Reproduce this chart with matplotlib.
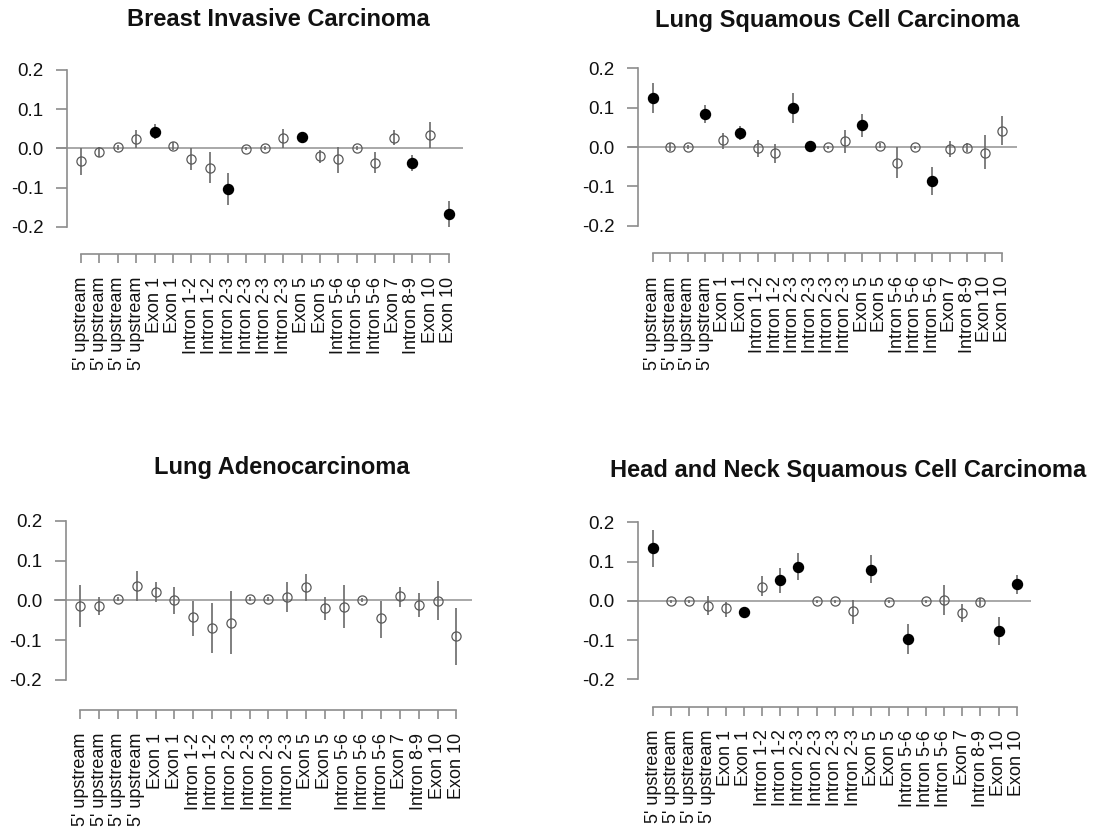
import matplotlib
matplotlib.use("Agg")
import matplotlib.pyplot as plt

plt.rcParams['font.family'] = ['Liberation Sans', 'DejaVu Sans']

labels = ["5' upstream"] * 4 + ["Exon 1"] * 2 + ["Intron 1-2"] * 2 + ["Intron 2-3"] * 4 + \
         ["Exon 5"] * 2 + ["Intron 5-6"] * 3 + ["Exon 7", "Intron 8-9"] + ["Exon 10"] * 2

titles = ["Breast Invasive Carcinoma", "Lung Squamous Cell Carcinoma",
          "Lung Adenocarcinoma", "Head and Neck Squamous Cell Carcinoma"]

brca_est = [-0.032, -0.009, 0.003, 0.024, 0.043, 0.006, -0.027, -0.049, -0.105, -0.001, 0.002,
            0.026, 0.029, -0.020, -0.027, 0.002, -0.037, 0.026, -0.037, 0.034, -0.168]
brca_lo = [-0.068, -0.021, -0.004, 0.000, 0.023, -0.004, -0.056, -0.088, -0.144, -0.005, -0.003,
           0.000, 0.016, -0.038, -0.062, -0.003, -0.064, 0.009, -0.057, 0.000, -0.201]
brca_hi = [0.002, 0.003, 0.008, 0.047, 0.062, 0.016, 0.000, -0.010, -0.064, 0.003, 0.006,
           0.050, 0.042, -0.004, 0.004, 0.006, -0.010, 0.047, -0.017, 0.068, -0.134]
brca_sig = [0, 0, 0, 0, 1, 0, 0, 0, 1, 0, 0, 0, 1, 0, 0, 0, 0, 0, 1, 0, 1]

lusc_est = [0.125, 0.000, 0.000, 0.084, 0.017, 0.036, -0.003, -0.014, 0.100, 0.003, -0.001,
            0.014, 0.055, 0.003, -0.040, -0.001, -0.087, -0.005, -0.002, -0.014, 0.041]
lusc_lo = [0.086, -0.011, -0.004, 0.061, -0.004, 0.019, -0.025, -0.040, 0.061, -0.002, -0.004,
           -0.014, 0.025, -0.003, -0.080, -0.004, -0.123, -0.025, -0.012, -0.057, 0.004]
lusc_hi = [0.163, 0.011, 0.004, 0.108, 0.036, 0.053, 0.017, 0.008, 0.137, 0.008, 0.003,
           0.042, 0.083, 0.009, 0.000, 0.003, -0.051, 0.014, 0.009, 0.031, 0.078]
lusc_sig = [1, 0, 0, 1, 0, 1, 0, 0, 1, 1, 0, 0, 1, 0, 0, 0, 1, 0, 0, 0, 0]

luad_est = [-0.013, -0.014, 0.004, 0.036, 0.021, 0.000, -0.043, -0.069, -0.056, 0.003, 0.003,
            0.009, 0.033, -0.020, -0.016, 0.002, -0.044, 0.010, -0.012, -0.001, -0.089]
luad_lo = [-0.066, -0.037, -0.001, -0.001, -0.005, -0.034, -0.089, -0.133, -0.134, -0.002, -0.002,
           -0.028, -0.001, -0.049, -0.070, -0.003, -0.095, -0.016, -0.041, -0.049, -0.162]
luad_hi = [0.038, 0.008, 0.009, 0.073, 0.047, 0.034, -0.001, -0.006, 0.024, 0.008, 0.008,
           0.045, 0.065, 0.008, 0.038, 0.007, -0.001, 0.034, 0.018, 0.048, -0.020]
luad_sig = [0] * 21

hnsc_est = [0.134, -0.001, -0.001, -0.014, -0.019, -0.029, 0.036, 0.053, 0.087, -0.001, -0.001,
            -0.026, 0.079, -0.002, -0.097, -0.001, 0.002, -0.030, -0.003, -0.076, 0.042]
hnsc_lo = [0.085, -0.005, -0.005, -0.037, -0.040, -0.035, 0.011, 0.021, 0.053, -0.005, -0.005,
           -0.058, 0.045, -0.006, -0.135, -0.005, -0.036, -0.053, -0.014, -0.112, 0.018]
hnsc_hi = [0.180, 0.003, 0.003, 0.011, -0.002, -0.023, 0.062, 0.083, 0.123, 0.003, 0.003,
           0.003, 0.117, 0.002, -0.058, 0.003, 0.041, -0.008, 0.008, -0.040, 0.066]
hnsc_sig = [1, 0, 0, 0, 0, 1, 0, 1, 1, 0, 0, 0, 1, 0, 1, 0, 0, 0, 0, 1, 1]

panels = [
    (brca_est, brca_lo, brca_hi, brca_sig),
    (lusc_est, lusc_lo, lusc_hi, lusc_sig),
    (luad_est, luad_lo, luad_hi, luad_sig),
    (hnsc_est, hnsc_lo, hnsc_hi, hnsc_sig),
]

W, H = 1096, 834
# pixel geometry: first pt x, last pt x, y(0.2), y(-0.2), y-axis x, x-axis y, region left, region right, title x, title y
geom = [
    (81, 448.7, 70, 226.7, 67, 254, 56, 463, 278, 20),
    (652.7, 1002.3, 68.3, 225.7, 638, 253.3, 628, 1016.7, 837, 20),
    (80.3, 456.3, 520.7, 680, 65.7, 710, 54, 471.7, 282, 468),
    (653, 1016.7, 522.3, 679.3, 638.3, 706.7, 627.7, 1031, 848, 470),
]

fig = plt.figure(figsize=(W / 100, H / 100), dpi=100)
axis_col = '#8c8c8c'
pt_col = '#5a5a5a'

for (est, lo, hi, sig), title, g in zip(panels, titles, geom):
    x1, x21, y02, ym02, yax, xay, zl, zr, tx, ty = g
    n = len(est)
    s = (x21 - x1) / (n - 1)
    k = (ym02 - y02) / 0.4
    top_px = y02 - 8
    ax = fig.add_axes([zl / W, 1 - xay / H, (zr - zl) / W, (xay - top_px) / H])
    ax.set_xlim(1 + (zl - x1) / s, 1 + (zr - x1) / s)
    ax.set_ylim(0.2 - (xay - y02) / k, 0.2 + (y02 - top_px) / k)
    ax.patch.set_alpha(0)
    xs = list(range(1, n + 1))
    ax.axhline(0, color='#9a9a9a', lw=1.2, zorder=1)
    ax.vlines(xs, lo, hi, color='#6a6a6a', lw=1.2, zorder=2)
    for x, e, sg in zip(xs, est, sig):
        if sg:
            ax.plot(x, e, 'o', ms=7.2, mfc='black', mec='black', zorder=3)
        else:
            ax.plot(x, e, 'o', ms=6.6, mfc='none', mec=pt_col, mew=0.9, zorder=3)
    for sp in ('top', 'right'):
        ax.spines[sp].set_visible(False)
    ax.spines['left'].set_position(('data', 1 + (yax - x1) / s))
    ax.spines['left'].set_bounds(-0.2, 0.2)
    ax.spines['bottom'].set_bounds(1, n)
    for sp in ('left', 'bottom'):
        ax.spines[sp].set_color(axis_col)
        ax.spines[sp].set_linewidth(1.2)
    ax.set_yticks([-0.2, -0.1, 0.0, 0.1, 0.2])
    ax.set_yticklabels(['-0.2', '-0.1', '0.0', '0.1', '0.2'])
    ax.set_xticks(xs)
    ax.set_xticklabels(labels, rotation=90)
    ax.tick_params(axis='y', direction='out', length=8, width=1.2, color=axis_col,
                   labelsize=13.5, pad=9, labelcolor='#111111')
    ax.tick_params(axis='x', direction='out', length=6.5, width=1.2, color=axis_col,
                   labelsize=13, pad=10, labelcolor='#111111')
    fig.text(tx / W, 1 - ty / H, title, ha='center', va='center',
             fontsize=17, fontweight='bold', color='#111111')

fig.savefig('out.png', dpi=100)
